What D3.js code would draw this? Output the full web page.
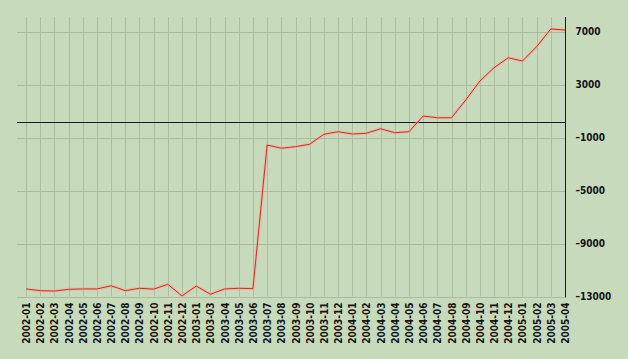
<!DOCTYPE html>
<html>
<head>
<meta charset="utf-8">
<script src="https://cdn.jsdelivr.net/npm/d3@7"></script>
<style>
  html, body { margin: 0; padding: 0; background: #c8dabc; }
  svg { display: block; }
  .tick-label { font-family: "DejaVu Sans Condensed", "DejaVu Sans", sans-serif; font-weight: bold; font-size: 10px; fill: #141414; }
</style>
</head>
<body>
<svg id="chart" width="628" height="359"></svg>
<script>
// months on the x axis (2003-02 is absent in the source)
const months = [
  '2002-01', '2002-02', '2002-03', '2002-04', '2002-05', '2002-06', '2002-07', '2002-08',
  '2002-09', '2002-10', '2002-11', '2002-12', '2003-01', '2003-03', '2003-04', '2003-05',
  '2003-06', '2003-07', '2003-08', '2003-09', '2003-10', '2003-11', '2003-12', '2004-01',
  '2004-02', '2004-03', '2004-04', '2004-05', '2004-06', '2004-07', '2004-08', '2004-09',
  '2004-10', '2004-11', '2004-12', '2005-01', '2005-02', '2005-03', '2005-04'
];

// values
const values = [
  -12430, -12560, -12590, -12460, -12430, -12430, -12190, -12560,
  -12380, -12440, -12080, -12960, -12210, -12830, -12430, -12380,
  -12410, -1570, -1810, -1690, -1510, -760, -560, -740,
  -680, -340, -640, -560, 620, 490, 490, 1830,
  3260, 4270, 5020, 4770, 5850, 7190, 7110
];

const yTicks = [7000, 3000, -1000, -5000, -9000, -13000];
const refValue = 200;   // the dark horizontal reference line

const W = 628, H = 359;
const plot = { left: 17, right: 565, top: 17 };

const svg = d3.select('#chart');
svg.append('rect').attr('width', W).attr('height', H).attr('fill', '#c8dabc');

const x = d3.scalePoint().domain(months).range([26, 565]);
const y = d3.scaleLinear().domain([-13000, 7000]).range([296.5, 31.5]);

const bottom = y(-13000);

// vertical grid
svg.append('g')
  .selectAll('line')
  .data(months)
  .join('line')
  .attr('x1', d => Math.round(x(d)) + 0.5)
  .attr('x2', d => Math.round(x(d)) + 0.5)
  .attr('y1', plot.top)
  .attr('y2', bottom)
  .attr('stroke', '#adbea2')
  .attr('stroke-width', 1);

// horizontal grid
svg.append('g')
  .selectAll('line')
  .data(yTicks)
  .join('line')
  .attr('x1', plot.left)
  .attr('x2', plot.right)
  .attr('y1', d => Math.round(y(d)) + 0.5)
  .attr('y2', d => Math.round(y(d)) + 0.5)
  .attr('stroke', '#a9ba9e')
  .attr('stroke-width', 1);

// reference line
svg.append('line')
  .attr('x1', plot.left)
  .attr('x2', plot.right)
  .attr('y1', Math.round(y(refValue)) + 0.5)
  .attr('y2', Math.round(y(refValue)) + 0.5)
  .attr('stroke', '#1a1a1a')
  .attr('stroke-width', 1);

// right axis
const yAxis = d3.axisRight(y).tickValues(yTicks).tickSize(0).tickPadding(10)
  .tickFormat(d => d < 0 ? '\u2013' + Math.abs(d) : String(d));
const ay = svg.append('g').attr('transform', `translate(${plot.right + 0.5},0)`).call(yAxis);
ay.select('.domain').remove();
ay.selectAll('text').attr('class', 'tick-label').attr('fill', null);
svg.append('line')
  .attr('x1', plot.right + 0.5).attr('x2', plot.right + 0.5)
  .attr('y1', plot.top).attr('y2', bottom + 1)
  .attr('stroke', '#1a1a1a');

// bottom labels
const xAxis = d3.axisBottom(x).tickSize(0).tickPadding(0);
const ax = svg.append('g').attr('transform', `translate(0,${bottom + 6})`).call(xAxis);
ax.select('.domain').remove();
ax.selectAll('text')
  .attr('class', 'tick-label')
  .attr('fill', null)
  .attr('transform', 'rotate(-90)')
  .attr('text-anchor', 'end')
  .attr('x', 0)
  .attr('y', 0)
  .attr('dy', '0.35em');

// the series
const line = d3.line().x((d, i) => x(months[i])).y(d => y(d));
svg.append('path')
  .datum(values)
  .attr('d', line)
  .attr('fill', 'none')
  .attr('stroke', '#eea59a')
  .attr('stroke-opacity', 0.55)
  .attr('stroke-width', 3);
svg.append('path')
  .datum(values)
  .attr('d', line)
  .attr('fill', 'none')
  .attr('stroke', '#dc2a20')
  .attr('stroke-width', 1);
</script>
</body>
</html>
